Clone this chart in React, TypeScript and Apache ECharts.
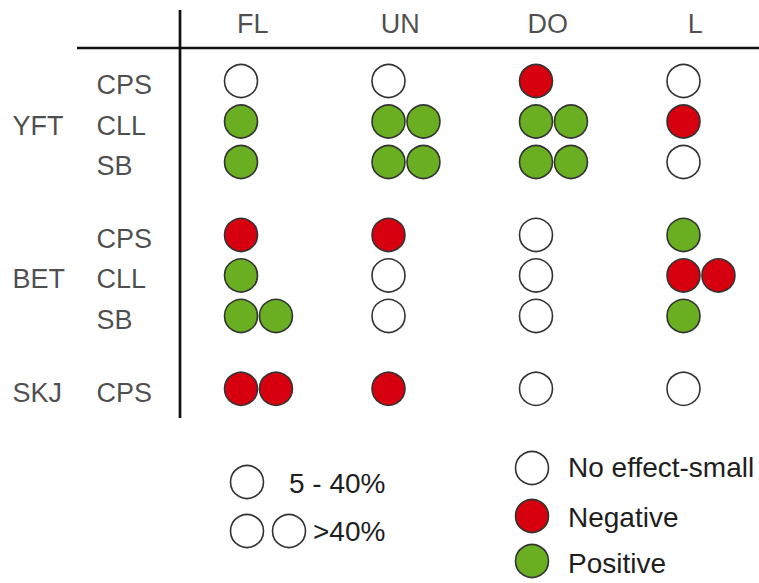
import React, { useEffect, useRef } from "react";
import * as echarts from "echarts";

// ---- data ----
const COLUMNS = ["FL", "UN", "DO", "L"];
const SPECIES = ["YFT", "BET", "SKJ"];
const GEARS_YFT = ["CPS", "CLL", "SB"];
const GEARS_BET = ["CPS", "CLL", "SB"];
const GEARS_SKJ = ["CPS"];
// o = no effect-small, - = negative, + = positive; doubled symbol = >40%
const EFFECT_YFT = [
  ["o", "o", "-", "o"],
  ["+", "++", "++", "-"],
  ["+", "++", "++", "o"],
];
const EFFECT_BET = [
  ["-", "-", "o", "+"],
  ["+", "o", "o", "--"],
  ["++", "o", "o", "+"],
];
const EFFECT_SKJ = [["--", "-", "o", "o"]];
const LEGEND_SIZE = ["5 - 40%", ">40%"];
const LEGEND_DIRECTION = ["No effect-small", "Negative", "Positive"];

// ---- layout / style ----
const W = 759;
const H = 583;
const X0 = 241; // px of first column
const XS = 147.5; // px per column
const Y0 = 81; // px of first row
const YS = 40.5; // px per row
const GROUP_GAP = 0.8;
const PAIR_OFFSET = 0.237;
const HEADER_Y = -1.41;
const HEADER_DX = 0.08;
const GEAR_X = (96 - X0) / XS;
const SPECIES_X = (12 - X0) / XS;
const LABEL_DY = 0.1;
const FONT = "'Liberation Sans', Arial, Helvetica, sans-serif";
const TEXT = "#1e1e1e";
const RED = "#d6000f";
const GREEN = "#6aae22";
const WHITE = "#ffffff";
const STROKE = "#333333";

const GROUPS = [
  { name: SPECIES[0], gears: GEARS_YFT, effects: EFFECT_YFT },
  { name: SPECIES[1], gears: GEARS_BET, effects: EFFECT_BET },
  { name: SPECIES[2], gears: GEARS_SKJ, effects: EFFECT_SKJ },
];

export default function App() {
  const ref = useRef<HTMLDivElement>(null);
  useEffect(() => {
    if (!ref.current) return;
    const chart = echarts.init(ref.current, undefined, { renderer: "svg" });

    const none: number[][] = [];
    const neg: number[][] = [];
    const pos: number[][] = [];
    const gearLabels: any[] = [];
    const speciesLabels: any[] = [];
    let row = 0;
    GROUPS.forEach((g, gi) => {
      const mid = Math.floor(g.gears.length / 2);
      g.gears.forEach((gear, ri) => {
        const y = row + gi * GROUP_GAP;
        gearLabels.push({ value: [GEAR_X, y + LABEL_DY], name: gear });
        if (ri === mid) speciesLabels.push({ value: [SPECIES_X, y + LABEL_DY], name: g.name });
        g.effects[ri].forEach((code, ci) => {
          const target = code[0] === "-" ? neg : code[0] === "+" ? pos : none;
          for (let k = 0; k < code.length; k++) target.push([ci + k * PAIR_OFFSET, y]);
        });
        row++;
      });
    });

    const headers = COLUMNS.map((c, i) => ({ value: [i + HEADER_DX, HEADER_Y], name: c }));

    const circleSeries = (name: string, data: number[][], color: string) => ({
      type: "scatter",
      name,
      data,
      symbol: "circle",
      symbolSize: 33,
      silent: true,
      itemStyle: { color, borderColor: STROKE, borderWidth: 1.6, opacity: 1 },
    });

    const labelSeries = (name: string, data: any[], align: "left" | "center") => ({
      type: "scatter",
      name,
      data,
      symbolSize: 1,
      silent: true,
      itemStyle: { color: "rgba(0,0,0,0)" },
      label: {
        show: true,
        position: align === "left" ? "right" : "inside",
        distance: 0,
        formatter: (p: any) => p.name,
        color: TEXT,
        fontFamily: FONT,
        fontSize: 27,
        align: align,
        verticalAlign: "middle",
      },
    });

    const lc = (cx: number, cy: number, fill: string) => ({
      type: "circle",
      shape: { cx, cy, r: 16.5 },
      style: { fill, stroke: STROKE, lineWidth: 1.6 },
      silent: true,
    });
    const lt = (x: number, y: number, text: string) => ({
      type: "text",
      x,
      y,
      style: { text, fill: TEXT, font: `28px ${FONT}`, textVerticalAlign: "middle", verticalAlign: "middle" },
      silent: true,
    });

    chart.setOption({
      animation: false,
      backgroundColor: "#ffffff",
      grid: { left: 0, right: 0, top: 0, bottom: 0, containLabel: false },
      xAxis: { type: "value", min: -X0 / XS, max: (W - X0) / XS, show: false },
      yAxis: { type: "value", inverse: true, min: -Y0 / YS, max: (H - Y0) / YS, show: false },
      series: [
        circleSeries(LEGEND_DIRECTION[0], none, WHITE),
        circleSeries(LEGEND_DIRECTION[1], neg, RED),
        circleSeries(LEGEND_DIRECTION[2], pos, GREEN),
        labelSeries("headers", headers, "center"),
        labelSeries("gears", gearLabels, "left"),
        labelSeries("species", speciesLabels, "left"),
      ],
      graphic: [
        { type: "line", shape: { x1: 180, y1: 10, x2: 180, y2: 418 }, style: { stroke: "#111", lineWidth: 2.7 }, silent: true },
        { type: "line", shape: { x1: 77, y1: 48, x2: 759, y2: 48 }, style: { stroke: "#111", lineWidth: 2.7 }, silent: true },
        lc(247, 482, WHITE),
        lt(289, 483, LEGEND_SIZE[0]),
        lc(247, 531, WHITE),
        lc(289, 531, WHITE),
        lt(313, 531, LEGEND_SIZE[1]),
        lc(532, 468, WHITE),
        lt(568, 467, LEGEND_DIRECTION[0]),
        lc(532, 516, RED),
        lt(568, 517, LEGEND_DIRECTION[1]),
        lc(532, 561, GREEN),
        lt(568, 563, LEGEND_DIRECTION[2]),
      ],
    });
    return () => chart.dispose();
  }, []);
  return (
    <div
      ref={ref}
      style={{ position: "absolute", left: 0, top: 0, width: W, height: H, background: "#fff" }}
    />
  );
}
